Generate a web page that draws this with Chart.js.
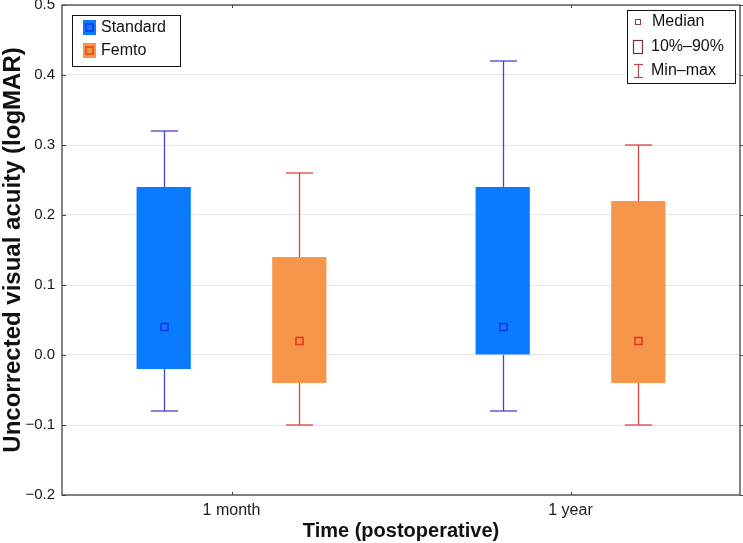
<!DOCTYPE html>
<html>
<head>
<meta charset="utf-8">
<script src="https://cdn.jsdelivr.net/npm/chart.js@4.4.0/dist/chart.umd.min.js"></script>
<style>
  html, body { margin: 0; padding: 0; background: #fff; }
</style>
</head>
<body>
<canvas id="boxChart" width="743" height="543"></canvas>
<script>
// values
const categories = ['1 month', '1 year'];
const seriesNames = ['Standard', 'Femto'];
const standardBox = [[-0.02, 0.24], [0.00, 0.24]];   // 10%-90%
const femtoBox = [[-0.04, 0.14], [-0.04, 0.22]];
const standardMedian = [0.04, 0.04];
const femtoMedian = [0.02, 0.02];
const standardRange = [[-0.08, 0.32], [-0.08, 0.42]]; // min-max
const femtoRange = [[-0.10, 0.26], [-0.10, 0.30]];
const yTicks = [-0.2, -0.1, 0.0, 0.1, 0.2, 0.3, 0.4, 0.5];

const FONT = "'Liberation Sans', Arial, sans-serif";
Chart.defaults.font.family = FONT;
Chart.defaults.color = '#1a1a1a';

function line(ctx, x1, y1, x2, y2) {
    ctx.beginPath();
    ctx.moveTo(x1, y1);
    ctx.lineTo(x2, y2);
    ctx.stroke();
}

const boxExtras = {
    id: 'boxExtras',
    afterDatasetsDraw(chart) {
        const ctx = chart.ctx;
        const y = chart.scales.y;
        ctx.save();
        chart.data.datasets.forEach((ds, i) => {
            chart.getDatasetMeta(i).data.forEach((bar, j) => {
                const x = Math.round(bar.x) + 0.5;
                const cap = bar.width / 4;
                const yMin = y.getPixelForValue(ds.range[j][0]);
                const yMax = y.getPixelForValue(ds.range[j][1]);
                const yLo = y.getPixelForValue(ds.data[j][0]);
                const yHi = y.getPixelForValue(ds.data[j][1]);
                ctx.strokeStyle = ds.whiskerColor;
                ctx.lineWidth = 1.3;
                line(ctx, x, yMax, x, yHi);
                line(ctx, x, yLo, x, yMin);
                line(ctx, x - cap, yMax, x + cap, yMax);
                line(ctx, x - cap, yMin, x + cap, yMin);
                // median marker
                const ym = y.getPixelForValue(ds.median[j]);
                ctx.strokeStyle = ds.medianColor;
                ctx.lineWidth = 1.5;
                ctx.strokeRect(x - 3.5, ym - 3.5, 7, 7);
            });
        });
        ctx.restore();
    },
    afterDraw(chart) {
        const ctx = chart.ctx;
        const a = chart.chartArea;
        const x = chart.scales.x, y = chart.scales.y;
        ctx.save();
        // frame
        ctx.strokeStyle = '#444';
        ctx.lineWidth = 1.3;
        ctx.strokeRect(a.left, a.top, a.right - a.left, a.bottom - a.top);
        ctx.lineWidth = 1;
        yTicks.forEach(v => {
            const p = Math.round(y.getPixelForValue(v)) + 0.5;
            line(ctx, a.left, p, a.left + 4, p);
            line(ctx, a.right, p, a.right + 3, p);
        });
        categories.forEach((c, i) => {
            const p = Math.round(x.getPixelForValue(i)) + 0.5;
            line(ctx, p, a.bottom, p, a.bottom - 3);
            line(ctx, p, a.top, p, a.top + 3);
        });

        // series legend
        ctx.fillStyle = '#fff';
        ctx.fillRect(72, 15, 108, 51);
        ctx.strokeStyle = '#111';
        ctx.lineWidth = 1;
        ctx.strokeRect(72.5, 15.5, 108, 51);
        const sw = [[20, '#0b7bfd', '#1a33e8'], [43, '#f5964a', '#e8441a']];
        sw.forEach((s, i) => {
            ctx.fillStyle = s[1];
            ctx.fillRect(83, s[0], 13, 15);
            ctx.strokeStyle = s[2];
            ctx.lineWidth = 1.5;
            ctx.strokeRect(86, s[0] + 4, 7, 7);
            ctx.fillStyle = '#111';
            ctx.font = '16px ' + FONT;
            ctx.textBaseline = 'middle';
            ctx.fillText(seriesNames[i], 101, s[0] + 8);
        });

        // statistic legend
        ctx.fillStyle = '#fff';
        ctx.fillRect(627, 10, 108, 73);
        ctx.strokeStyle = '#111';
        ctx.lineWidth = 1;
        ctx.strokeRect(627.5, 10.5, 108, 73);
        ctx.strokeStyle = '#8a4040';
        ctx.strokeRect(635.5, 19.5, 5, 5);
        ctx.strokeStyle = '#7a3030';
        ctx.lineWidth = 1.2;
        ctx.strokeRect(633.5, 40.5, 9, 13);
        ctx.strokeStyle = '#b84848';
        line(ctx, 638.5, 64, 638.5, 78);
        line(ctx, 634, 64.5, 643, 64.5);
        line(ctx, 634, 77.5, 643, 77.5);
        ctx.fillStyle = '#111';
        ctx.font = '16px ' + FONT;
        ctx.textBaseline = 'middle';
        ctx.fillText('Median', 652, 22);
        ctx.fillText('10%\u201390%', 651, 47);
        ctx.fillText('Min\u2013max', 651, 71);
        ctx.restore();
    }
};

const ctx = document.getElementById('boxChart').getContext('2d');
new Chart(ctx, {
    type: 'bar',
    data: {
        labels: categories,
        datasets: [
            {
                label: seriesNames[0],
                data: standardBox,
                range: standardRange,
                median: standardMedian,
                backgroundColor: '#0b7bfd',
                whiskerColor: '#4444cc',
                medianColor: '#1a33e8',
                borderWidth: 0,
                categoryPercentage: 0.8,
                barPercentage: 0.4
            },
            {
                label: seriesNames[1],
                data: femtoBox,
                range: femtoRange,
                median: femtoMedian,
                backgroundColor: '#f5964a',
                whiskerColor: '#d64545',
                medianColor: '#e8341a',
                borderWidth: 0,
                categoryPercentage: 0.8,
                barPercentage: 0.4
            }
        ]
    },
    options: {
        responsive: false,
        animation: false,
        devicePixelRatio: 1,
        layout: { padding: { top: 5, right: 3, left: 0, bottom: 0 } },
        plugins: {
            legend: { display: false },
            tooltip: { enabled: false }
        },
        scales: {
            x: {
                grid: { display: false, drawTicks: false },
                border: { display: false },
                ticks: { font: { size: 16 }, padding: 6, color: '#1a1a1a' },
                title: {
                    display: true,
                    text: 'Time (postoperative)',
                    font: { size: 20, weight: 'bold' },
                    color: '#111',
                    padding: { top: 0, bottom: 0 }
                },
                afterFit: s => { s.height = 48; s.paddingLeft = 0; s.paddingRight = 0; }
            },
            y: {
                min: -0.2,
                max: 0.5,
                afterBuildTicks: s => { s.ticks = yTicks.map(v => ({ value: v })); },
                grid: { color: '#e6e6e6', drawTicks: false },
                border: { display: false },
                ticks: {
                    font: { size: 15 },
                    padding: 7,
                    color: '#1a1a1a',
                    callback: v => (v < 0 ? '\u2212' : '') + Math.abs(v).toFixed(1)
                },
                title: {
                    display: true,
                    text: 'Uncorrected visual acuity (logMAR)',
                    font: { size: 24, weight: 'bold', lineHeight: 1.1 },
                    color: '#111',
                    padding: { top: 0, bottom: 0 }
                },
                afterFit: s => { s.width = 62; s.paddingTop = 0; s.paddingBottom = 0; }
            }
        }
    },
    plugins: [boxExtras]
});
</script>
</body>
</html>
